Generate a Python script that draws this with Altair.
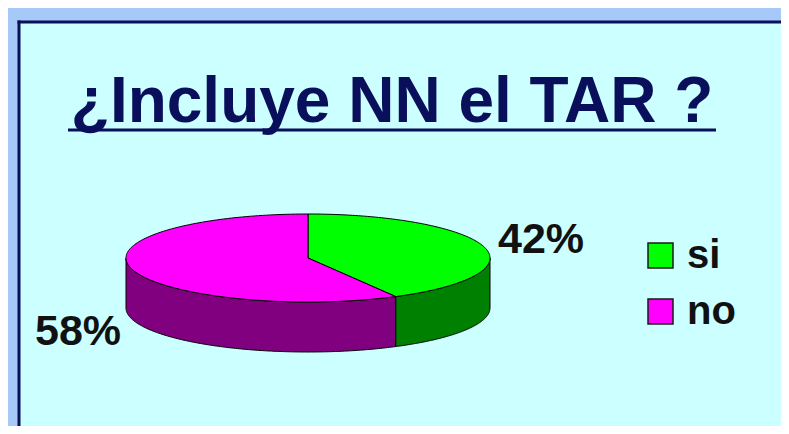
import altair as alt
import numpy as np
import pandas as pd

# ---- data ----
title_text = "¿Incluye NN el TAR ?"
categories = ["si", "no"]
shares = [42, 58]
pct_labels = ["42%", "58%"]
top_colors = ["#00ff00", "#ff00ff"]
side_colors = ["#008000", "#800080"]

# ---- layout ----
W, H = 773, 418
CX, CY, RX, RY, DEPTH = 300, 250, 182, 44, 50
NAVY = "#0a0f5c"
label_pos = [(533, 245), (70, 337)]
legend_x, legend_y0, legend_step = 652.5, 247.5, 56
legend_text_x = 679


def ell(a, dy=0.0):
    r = np.radians(a)
    return CX + RX * np.sin(r), CY - RY * np.cos(r) + dy


top_rows, side_rows = [], []
start = 0.0
for cat, share in zip(categories, shares):
    a0, a1 = start, start + share / 100 * 360
    # top face sector
    pts = [(CX, CY)]
    for a in np.linspace(a0, a1, 160):
        pts.append(ell(a))
    pts.append((CX, CY))
    for i, (x, y) in enumerate(pts):
        top_rows.append({"cat": cat, "i": i, "x": x, "y": y})
    # visible side wall (front half)
    lo, hi = max(a0, 90.0), min(a1, 270.0)
    if lo < hi:
        angs = np.linspace(lo, hi, 160)
        pts = [ell(a) for a in angs] + [ell(a, DEPTH) for a in angs[::-1]]
        pts.append(pts[0])
        for i, (x, y) in enumerate(pts):
            side_rows.append({"cat": cat, "i": i, "x": x, "y": y})
    start = a1

top_df = pd.DataFrame(top_rows)
side_df = pd.DataFrame(side_rows)

xs = alt.Scale(domain=[0, W], nice=False, zero=False)
ys = alt.Scale(domain=[0, H], nice=False, zero=False, reverse=True)
top_scale = alt.Scale(domain=categories, range=top_colors)
side_scale = alt.Scale(domain=categories, range=side_colors)

one = pd.DataFrame({"a": [0]})

panel = alt.Chart(one).mark_rect(fill="#ccffff").encode(
    x=alt.value(11), x2=alt.value(W), y=alt.value(14), y2=alt.value(H)
)
border_left = alt.Chart(one).mark_rule(color=NAVY, strokeWidth=3).encode(
    x=alt.value(11), y=alt.value(12.5), y2=alt.value(H)
)
border_top = alt.Chart(one).mark_rule(color=NAVY, strokeWidth=3).encode(
    x=alt.value(9.5), x2=alt.value(W), y=alt.value(14)
)

title = alt.Chart(pd.DataFrame({"t": [title_text]})).mark_text(
    font="Liberation Sans", fontWeight="bold", fontSize=64, color=NAVY,
    align="center", baseline="alphabetic"
).encode(x=alt.value(384), y=alt.value(114), text="t:N")

underline = alt.Chart(one).mark_rule(color=NAVY, strokeWidth=3).encode(
    x=alt.value(60), x2=alt.value(708), y=alt.value(122)
)

sides = alt.Chart(side_df).mark_line(
    filled=True, stroke="#000000", strokeWidth=1, strokeJoin="round"
).encode(
    x=alt.X("x:Q", scale=xs, axis=None),
    y=alt.Y("y:Q", scale=ys, axis=None),
    color=alt.Color("cat:N", scale=side_scale, legend=None),
    detail="cat:N",
    order="i:Q",
)

tops = alt.Chart(top_df).mark_line(
    filled=True, stroke="#000000", strokeWidth=1, strokeJoin="round"
).encode(
    x=alt.X("x:Q", scale=xs, axis=None),
    y=alt.Y("y:Q", scale=ys, axis=None),
    color=alt.Color("cat:N", scale=top_scale, legend=None),
    detail="cat:N",
    order="i:Q",
)

label_layers = []
for txt, (lx, ly) in zip(pct_labels, label_pos):
    label_layers.append(
        alt.Chart(pd.DataFrame({"t": [txt]})).mark_text(
            font="Liberation Sans", fontWeight="bold", fontSize=43, color="#111111",
            align="center", baseline="alphabetic"
        ).encode(x=alt.value(lx), y=alt.value(ly), text="t:N")
    )

leg_df = pd.DataFrame({
    "cat": categories,
    "lx": [legend_x] * len(categories),
    "ly": [legend_y0 + k * legend_step for k in range(len(categories))],
    "tx": [legend_text_x] * len(categories),
    "ty": [legend_y0 + 12.5 + k * legend_step for k in range(len(categories))],
})

leg_sq = alt.Chart(leg_df).mark_square(
    size=625, filled=True, opacity=1, stroke="#1a1a1a", strokeWidth=1.5
).encode(
    x=alt.X("lx:Q", scale=xs, axis=None),
    y=alt.Y("ly:Q", scale=ys, axis=None),
    color=alt.Color("cat:N", scale=top_scale, legend=None),
)

leg_tx = alt.Chart(leg_df).mark_text(
    font="Liberation Sans", fontWeight="bold", fontSize=40, color="#111111",
    align="left", baseline="alphabetic"
).encode(
    x=alt.X("tx:Q", scale=xs, axis=None),
    y=alt.Y("ty:Q", scale=ys, axis=None),
    text="cat:N",
)

chart = alt.layer(
    panel, border_left, border_top, title, underline, sides, tops,
    *label_layers, leg_sq, leg_tx
).resolve_scale(color="independent").properties(
    width=W, height=H, padding=0, autosize="none", background="#a6c9f7"
).configure_view(stroke=None)

chart.save("out.html", embed_options={"renderer": "svg", "actions": False})
